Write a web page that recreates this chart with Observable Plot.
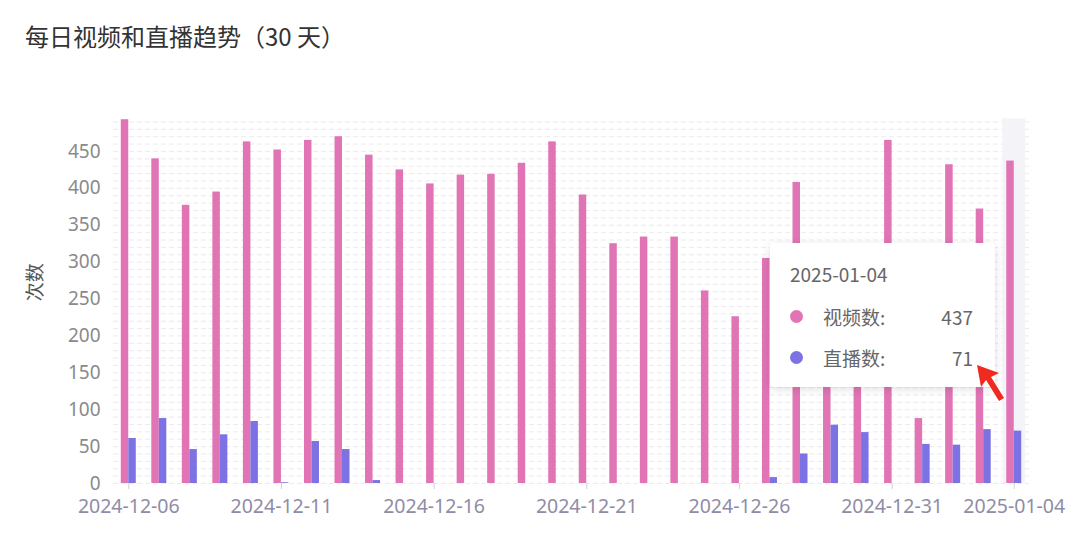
<!DOCTYPE html>
<html>
<head>
<meta charset="utf-8">
<script src="https://cdn.jsdelivr.net/npm/d3@7"></script>
<script src="https://cdn.jsdelivr.net/npm/@observablehq/plot@0.6"></script>
<style>
  body { margin: 0; background: #fff; font-family: "Noto Sans", "Noto Sans CJK SC", sans-serif; }
  #wrap { position: relative; width: 1080px; height: 536px; overflow: hidden; background: #fff; }
  #title { position: absolute; left: 25px; top: 20px; font-size: 24px; line-height: 32px; color: #333; font-family: "Noto Sans CJK SC", sans-serif; }
  #chart { position: absolute; left: 0; top: 80px; }
  #tip { position: absolute; left: 770px; top: 243px; width: 225px; height: 144px; background: #fff; border-radius: 4px;
         box-shadow: 0 2px 10px rgba(0,0,0,0.13); color: #666; font-size: 19px; font-family: "Noto Sans CJK SC", sans-serif; }
  #tip .date { position: absolute; left: 20px; top: 18px; line-height: 26px; }
  #tip .row { position: absolute; left: 20px; right: 22px; height: 26px; line-height: 26px; }
  #tip .dot { position: absolute; left: 0; top: 6px; width: 13px; height: 13px; border-radius: 50%; }
  #tip .name { position: absolute; left: 33px; }
  #tip .val { position: absolute; right: 0; }
  #cursor { position: absolute; left: 0; top: 0; }
</style>
</head>
<body>
<div id="wrap">
  <div id="title">每日视频和直播趋势（30 天）</div>
  <div id="chart"></div>
  <div id="tip"></div>
  <svg id="cursor" width="1080" height="536"></svg>
</div>
<script>
const dates = [
  "2024-12-06","2024-12-07","2024-12-08","2024-12-09","2024-12-10","2024-12-11","2024-12-12","2024-12-13",
  "2024-12-14","2024-12-15","2024-12-16","2024-12-17","2024-12-18","2024-12-19","2024-12-20","2024-12-21",
  "2024-12-22","2024-12-23","2024-12-24","2024-12-25","2024-12-26","2024-12-27","2024-12-28","2024-12-29",
  "2024-12-30","2024-12-31","2025-01-01","2025-01-02","2025-01-03","2025-01-04"
];
const videoCounts = [493,440,377,395,463,452,465,470,445,425,406,418,419,434,463,391,325,334,334,261,226,305,408,315,290,465,88,432,372,437];
const liveCounts  = [61,88,46,66,84,1,57,46,4,0,0,0,0,0,0,0,0,0,0,0,0,8,40,79,69,0,53,52,73,71];
const seriesNames = ["视频数","直播数"];
const seriesColors = ["#e074b4","#7c72e3"];
const yTicks = [0,50,100,150,200,250,300,350,400,450];
const gridValues = [0,10,20,30,40,50,60,70,80,90,100,110,120,130,140,150,160,170,180,190,200,210,220,230,240,250,
  260,270,280,290,300,310,320,330,340,350,360,370,380,390,400,410,420,430,440,450,460,470,480,490];
const xTickDates = ["2024-12-06","2024-12-11","2024-12-16","2024-12-21","2024-12-26","2024-12-31","2025-01-04"];
const yMax = 494;
const hoverDate = "2025-01-04";
const yTitle = "次数";

const rows = dates.map((d, i) => ({date: d, video: videoCounts[i], live: liveCounts[i]}));

const W = 1080, H = 456, ML = 113, MR = 51, MT = 38.5, MB = 53;
const bw = (W - ML - MR) / dates.length;
const barW = 7.5;

const chart = Plot.plot({
  width: W, height: H,
  marginLeft: ML, marginRight: MR, marginTop: MT, marginBottom: MB,
  style: {fontFamily: '"Noto Sans", "Noto Sans CJK SC", sans-serif', background: "transparent"},
  x: {type: "band", domain: dates, paddingInner: 0, paddingOuter: 0, round: false, axis: null},
  y: {domain: [0, yMax], axis: null},
  marks: [
    Plot.ruleY(gridValues, {stroke: "#ebebf0", strokeWidth: 1, strokeDasharray: "5,3"}),
    Plot.barY([hoverDate], {x: d => d, y1: 0, y2: yMax, fill: "#f4f4f8", insetLeft: 3.8, insetRight: 3.8}),
    Plot.barY(rows, {x: "date", y: "video", fill: seriesColors[0], insetLeft: bw / 2 - barW, insetRight: bw / 2}),
    Plot.barY(rows, {x: "date", y: "live", fill: seriesColors[1], insetLeft: bw / 2, insetRight: bw / 2 - barW}),
    Plot.axisY(yTicks, {tickSize: 0, tickPadding: 13, fontSize: 19, fill: "#8a8a8a", label: null}),
    Plot.axisX(xTickDates, {tickSize: 6, stroke: "#cfcfd6", tickPadding: 10, fontSize: 19.5, fill: "#8f8ca6", label: null}),
    Plot.text([yTitle], {frameAnchor: "left", rotate: -90, dx: -78, fontSize: 19, fill: "#555"})
  ]
});
document.getElementById("chart").appendChild(chart);

// tooltip (hover state shown in the reference)
const hi = dates.indexOf(hoverDate);
const tip = document.getElementById("tip");
const vals = [videoCounts[hi], liveCounts[hi]];
let html = `<div class="date">${hoverDate}</div>`;
seriesNames.forEach((n, k) => {
  html += `<div class="row" style="top:${61 + k * 41}px"><span class="dot" style="background:${seriesColors[k]}"></span>` +
          `<span class="name">${n}:</span><span class="val">${vals[k]}</span></div>`;
});
tip.innerHTML = html;

// mouse cursor arrow
d3.select("#cursor").append("polygon")
  .attr("points", "977,365 999,373 991,377 1004,398 999,401 986,380 981,387")
  .attr("fill", "#f02a1e");
</script>
</body>
</html>
